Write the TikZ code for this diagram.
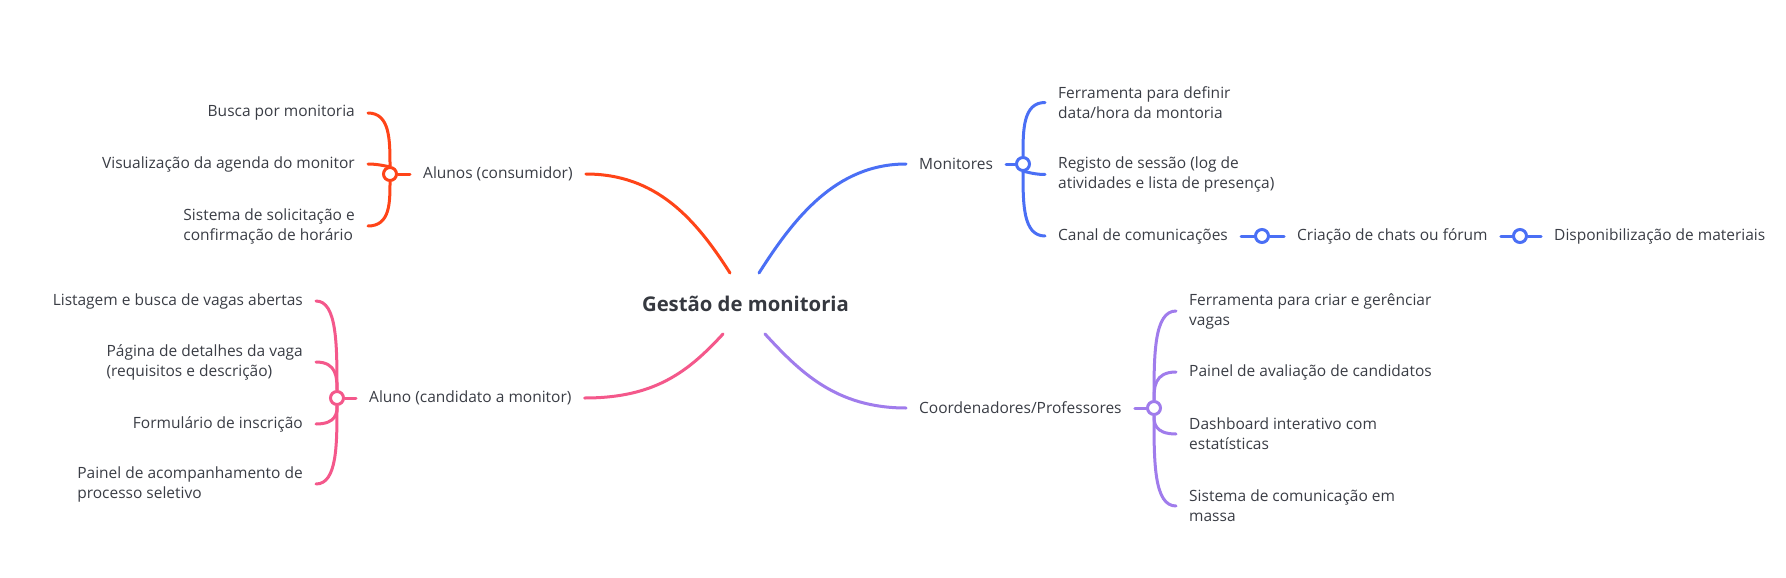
\documentclass[tikz,border=0pt]{standalone}
\usepackage{fontspec}
\setmainfont{Open Sans}
\usetikzlibrary{calc}
\definecolor{cred}{HTML}{FF4418}
\definecolor{cblue}{HTML}{4A6FF5}
\definecolor{cpink}{HTML}{F4588B}
\definecolor{cpurple}{HTML}{A07CEC}
\definecolor{ctext}{HTML}{3A3D45}
\definecolor{ctitle}{HTML}{363940}
\begin{document}
\begin{tikzpicture}[x=1pt,y=-1pt,
  lbl/.style={font=\fontsize{15.5}{20}\selectfont, text=ctext, inner xsep=13pt, inner ysep=2pt, align=left},
  ttl/.style={font=\fontsize{20.3}{24}\selectfont\bfseries, text=ctitle},
  hub/.style={circle, draw=#1, fill=white, line width=3pt, minimum size=13pt, inner sep=0pt},
  br/.style={draw=#1, line width=3pt, line cap=round}]
\fill[white] (0,0) rectangle (1786,578);
\useasboundingbox (0,0) rectangle (1786,578);

% centre
\node[ttl] (title) at (745.5,304) {Gestão de monitoria};
\coordinate (tNW) at (730,273);
\coordinate (tNE) at (759,273);
\coordinate (tSW) at (723,334);
\coordinate (tSE) at (765,334);

% ---------- red: Alunos (consumidor)
\node[lbl, anchor=west] (alunos) at (410,174) {Alunos (consumidor)};
\node[hub=cred] (hr) at (390,174) {};
\node[lbl, anchor=east] (r1) at (368,113) {Busca por monitoria};
\node[lbl, anchor=east] (r2) at (368,164) {Visualização da agenda do monitor};
\node[lbl, anchor=east] (r3) at (368,226) {Sistema de solicitação e\\confirmação de horário};
\draw[br=cred] (alunos.east) .. controls +(70,0) and +(-35,-55) .. (tNW);
\draw[br=cred] (hr) -- (alunos.west);
\draw[br=cred] (r1.east) .. controls +(22,0) and +(0,-34) .. (hr);
\draw[br=cred] (r2.east) .. controls +(14,0) and +(0,-6) .. (hr);
\draw[br=cred] (r3.east) .. controls +(22,0) and +(0,29) .. (hr);

% ---------- pink: Aluno (candidato a monitor)
\node[lbl, anchor=west] (aluno) at (356,398) {Aluno (candidato a monitor)};
\node[hub=cpink] (hp) at (337,398) {};
\node[lbl, anchor=east] (p1) at (316,301) {Listagem e busca de vagas abertas};
\node[lbl, anchor=east] (p2) at (316,362) {Página de detalhes da vaga\\(requisitos e descrição)};
\node[lbl, anchor=east] (p3) at (316,424) {Formulário de inscrição};
\node[lbl, anchor=east] (p4) at (316,484) {Painel de acompanhamento de\\processo seletivo};
\draw[br=cpink] (aluno.east) .. controls +(70,0) and +(-35,38) .. (tSW);
\draw[br=cpink] (hp) -- (aluno.west);
\draw[br=cpink] (p1.east) .. controls +(21,0) and +(0,-53) .. (hp);
\draw[br=cpink] (p2.east) .. controls +(21,0) and +(0,-20) .. (hp);
\draw[br=cpink] (p3.east) .. controls +(21,0) and +(0,14) .. (hp);
\draw[br=cpink] (p4.east) .. controls +(21,0) and +(0,47) .. (hp);

% ---------- blue: Monitores
\node[lbl, anchor=west] (monit) at (906,164) {Monitores};
\node[hub=cblue] (hb) at (1023,164) {};
\node[lbl, anchor=west] (b1) at (1045,102.5) {Ferramenta para definir\\data/hora da montoria};
\node[lbl, anchor=west] (b2) at (1045,174.5) {Registo de sessão (log de\\atividades e lista de presença)};
\node[lbl, anchor=west] (b3) at (1045,236) {Canal de comunicações};
\node[hub=cblue] (hb2) at (1262,236) {};
\node[lbl, anchor=west] (b4) at (1284,236) {Criação de chats ou fórum};
\node[hub=cblue] (hb3) at (1520,236) {};
\node[lbl, anchor=west] (b5) at (1541,236) {Disponibilização de materiais};
\draw[br=cblue] (monit.west) .. controls +(-70,0) and +(35,-55) .. (tNE);
\draw[br=cblue] (monit.east) -- (hb);
\draw[br=cblue] (b1.west) .. controls +(-22,0) and +(0,-34) .. (hb);
\draw[br=cblue] (b2.west) .. controls +(-14,0) and +(0,6) .. (hb);
\draw[br=cblue] (b3.west) .. controls +(-22,0) and +(0,40) .. (hb);
\draw[br=cblue] (b3.east) -- (hb2);
\draw[br=cblue] (hb2) -- (b4.west);
\draw[br=cblue] (b4.east) -- (hb3);
\draw[br=cblue] (hb3) -- (b5.west);

% ---------- purple: Coordenadores/Professores
\node[lbl, anchor=west] (coord) at (906,408) {Coordenadores/Professores};
\node[hub=cpurple] (hu) at (1154,408) {};
\node[lbl, anchor=west] (u1) at (1176,311) {Ferramenta para criar e gerênciar\\vagas};
\node[lbl, anchor=west] (u2) at (1176,372) {Painel de avaliação de candidatos};
\node[lbl, anchor=west] (u3) at (1176,434) {Dashboard interativo com\\estatísticas};
\node[lbl, anchor=west] (u4) at (1176,506) {Sistema de comunicação em\\massa};
\draw[br=cpurple] (coord.west) .. controls +(-70,0) and +(35,38) .. (tSE);
\draw[br=cpurple] (coord.east) -- (hu);
\draw[br=cpurple] (u1.west) .. controls +(-22,0) and +(0,-53) .. (hu);
\draw[br=cpurple] (u2.west) .. controls +(-22,0) and +(0,-20) .. (hu);
\draw[br=cpurple] (u3.west) .. controls +(-22,0) and +(0,14) .. (hu);
\draw[br=cpurple] (u4.west) .. controls +(-22,0) and +(0,54) .. (hu);
\end{tikzpicture}
\end{document}
